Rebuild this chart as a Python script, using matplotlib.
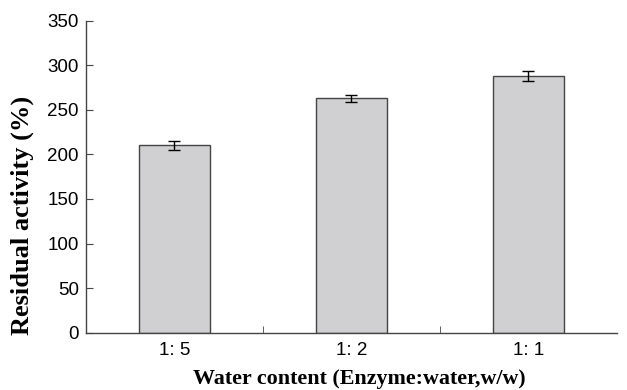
import numpy as np
import matplotlib.pyplot as plt

categories = ['1: 5', '1: 2', '1: 1']
activity = [210, 263, 288]
errors = [5, 4, 6]
y_ticks = [0, 50, 100, 150, 200, 250, 300, 350]

fig = plt.figure(figsize=(6.27, 3.9), dpi=100)
ax = fig.add_axes([0.137, 0.147, 0.847, 0.8])

x = np.arange(len(categories))
ax.bar(x, activity, width=0.4, color='#d0d0d2', edgecolor='#444444', linewidth=1.0,
       yerr=errors, capsize=4, error_kw=dict(ecolor='black', elinewidth=1.0, capthick=1.0))

ax.set_xlim(-0.5, len(categories) - 0.5)
ax.set_ylim(0, 350)
ax.set_yticks(y_ticks)
ax.set_xticks(x)
ax.set_xticklabels(categories, family='Liberation Sans', fontsize=13.5)
ax.tick_params(axis='x', which='major', length=0, pad=7)
ax.set_xticks(x[:-1] + 0.5, minor=True)
ax.tick_params(axis='x', which='minor', direction='in', length=5, color='#444444')
ax.tick_params(axis='y', direction='in', length=5, color='#444444', labelsize=13.5, pad=5)
for lab in ax.get_yticklabels():
    lab.set_family('Liberation Sans')

for side in ['top', 'right']:
    ax.spines[side].set_visible(False)
for side in ['left', 'bottom']:
    ax.spines[side].set_color('#444444')
    ax.spines[side].set_linewidth(1.0)

ax.set_xlabel('Water content (Enzyme:water,w/w)', family='Liberation Serif',
              fontweight='bold', fontsize=15.8)
ax.set_ylabel('Residual activity (%)', family='Liberation Serif',
              fontweight='bold', fontsize=19)
ax.xaxis.set_label_coords(0.514, -0.118)
ax.yaxis.set_label_coords(-0.098, 0.375)

fig.savefig('out.png', dpi=100)
